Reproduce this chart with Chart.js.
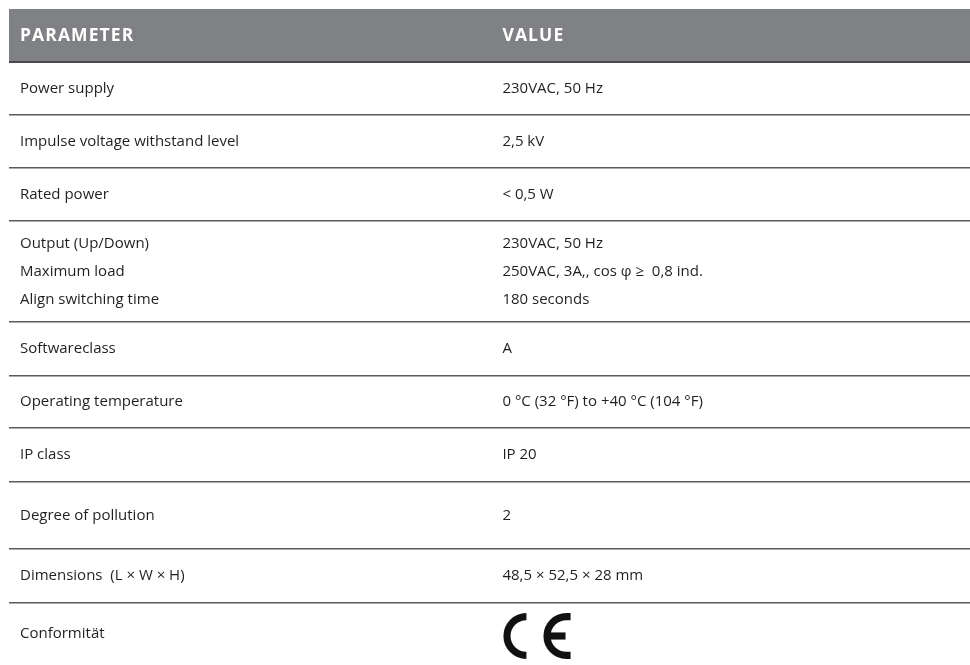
<!DOCTYPE html>
<html>
<head>
<meta charset="utf-8">
<title>Technical data</title>
<script src="https://cdn.jsdelivr.net/npm/chart.js@4.4.1/dist/chart.umd.min.js"></script>
<style>
    html, body { margin: 0; padding: 0; background: #fff; }
    #wrap { width: 970px; height: 665px; position: relative; }
</style>
</head>
<body>
<div id="wrap"><canvas id="specChart"></canvas></div>
<script>
const headers = ['PARAMETER', 'VALUE'];

const parameters = [
    ['Power supply'],
    ['Impulse voltage withstand level'],
    ['Rated power'],
    ['Output (Up/Down)', 'Maximum load', 'Align switching time'],
    ['Softwareclass'],
    ['Operating temperature'],
    ['IP class'],
    ['Degree of pollution'],
    ['Dimensions  (L \u00d7 W \u00d7 H)'],
    ['Conformit\u00e4t']
];

const values = [
    ['230VAC, 50 Hz'],
    ['2,5 kV'],
    ['< 0,5 W'],
    ['230VAC, 50 Hz', '250VAC, 3A,, cos \u03c6 \u2265  0,8 ind.', '180 seconds'],
    ['A'],
    ['0 \u00b0C (32 \u00b0F) to +40 \u00b0C (104 \u00b0F)'],
    ['IP 20'],
    ['2'],
    ['48,5 \u00d7 52,5 \u00d7 28 mm'],
    ['CE']
];

// layout only: row heights in y-scale units
const HEADER_H = 53;
const rowHeights = [53, 53, 53, 101, 54, 52, 54, 67, 54, 62];
const LINE_GAP = 28;
const COL_SPLIT = 0.502;
const CELL_PAD = 11;

const boundaries = [0, HEADER_H];
rowHeights.forEach(h => boundaries.push(boundaries[boundaries.length - 1] + h));
const total = boundaries[boundaries.length - 1];

function drawCE(ctx, x, cy, h) {
    const lw = h * 0.155;
    const r = h / 2 - lw / 2;
    ctx.save();
    ctx.strokeStyle = '#111';
    ctx.lineWidth = lw;
    ctx.lineCap = 'butt';
    // C
    let cx = x + h / 2;
    ctx.beginPath();
    ctx.arc(cx, cy, r, Math.PI / 2, Math.PI * 1.5);
    ctx.stroke();
    // E
    cx = x + h * 1.37;
    ctx.beginPath();
    ctx.moveTo(cx + h * 0.09, cy - r);
    ctx.lineTo(cx, cy - r);
    ctx.arc(cx, cy, r, Math.PI * 1.5, Math.PI / 2, true);
    ctx.lineTo(cx + h * 0.09, cy + r);
    ctx.stroke();
    ctx.beginPath();
    ctx.moveTo(cx - r, cy);
    ctx.lineTo(cx - h * 0.02, cy);
    ctx.stroke();
    ctx.restore();
}

const tablePlugin = {
    id: 'tablePlugin',
    beforeDraw(chart) {
        const { ctx, chartArea, scales: { y } } = chart;
        ctx.save();
        ctx.fillStyle = '#808184';
        const top = y.getPixelForValue(0);
        ctx.fillRect(chartArea.left, top, chartArea.right - chartArea.left, y.getPixelForValue(HEADER_H) - top);
        ctx.restore();
    },
    afterDraw(chart) {
        const { ctx, chartArea, scales: { y } } = chart;
        const width = chartArea.right - chartArea.left;
        const colX = [chartArea.left + CELL_PAD, chartArea.left + width * COL_SPLIT + CELL_PAD];
        ctx.save();
        ctx.textBaseline = 'middle';
        ctx.textAlign = 'left';

        ctx.fillStyle = '#ffffff';
        ctx.font = 'bold 17.5px "Open Sans"';
        ctx.letterSpacing = '1.1px';
        const hy = y.getPixelForValue(HEADER_H / 2) + 1;
        headers.forEach((h, i) => ctx.fillText(h, colX[i], hy));
        ctx.letterSpacing = '0px';

        ctx.fillStyle = '#231f20';
        ctx.font = '15px "Open Sans"';
        parameters.forEach((lines, r) => {
            const cy = y.getPixelForValue((boundaries[r + 1] + boundaries[r + 2]) / 2);
            const cols = [lines, values[r]];
            cols.forEach((cellLines, c) => {
                cellLines.forEach((txt, k) => {
                    const ly = cy + (k - (cellLines.length - 1) / 2) * LINE_GAP;
                    if (txt === 'CE') {
                        drawCE(ctx, colX[c] + 1, ly + 2, 46);
                    } else {
                        ctx.fillText(txt, colX[c], ly);
                    }
                });
            });
        });
        ctx.restore();
    }
};

new Chart(document.getElementById('specChart'), {
    type: 'bar',
    data: { datasets: [] },
    options: {
        responsive: true,
        maintainAspectRatio: false,
        animation: false,
        events: [],
        layout: { padding: { left: 9, top: 9, right: 0, bottom: 0 } },
        plugins: { legend: { display: false }, tooltip: { enabled: false } },
        scales: {
            x: { type: 'linear', min: 0, max: 1, display: false },
            y: {
                type: 'linear',
                min: 0,
                max: total,
                reverse: true,
                afterBuildTicks: scale => { scale.ticks = boundaries.map(v => ({ value: v })); },
                afterFit: scale => { scale.width = 0; },
                ticks: { display: false },
                border: { display: false },
                grid: {
                    drawTicks: false,
                    lineWidth: ctx => ctx.index === 1 ? 2 : 1.5,
                    color: ctx => (ctx.index === 0 || ctx.index === boundaries.length - 1)
                        ? 'rgba(0,0,0,0)'
                        : (ctx.index === 1 ? '#4a4a4c' : '#5b5b5d')
                }
            }
        }
    },
    plugins: [tablePlugin]
});
</script>
</body>
</html>
